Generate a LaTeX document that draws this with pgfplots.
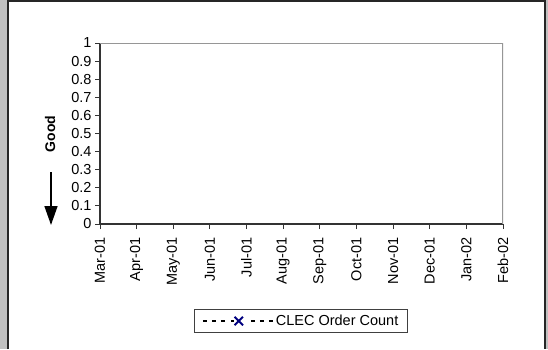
\documentclass[border=0pt]{standalone}
\usepackage{pgfplots}
\pgfplotsset{compat=1.18}
\usepackage{fontspec}
\setmainfont{Liberation Sans}
\usetikzlibrary{arrows.meta}
\definecolor{panelgray}{HTML}{C0C0C0}
\definecolor{framegray}{HTML}{969696}
\definecolor{markblue}{HTML}{000080}

\begin{document}
\begin{tikzpicture}[x=1pt,y=1pt]
  % page: grey edge, white panel with dark frame
  \useasboundingbox (0,0) rectangle (548,349);
  \fill[panelgray] (0,0) rectangle (548,349);
  \fill[white] (8,0) rectangle (545,347.5);
  \draw[black!85, line width=2pt] (8,0) -- (8,347.5) -- (545,347.5) -- (545,0);

  % "Good" with downward arrow
  \node[rotate=90, font=\bfseries\fontsize{14}{16}\selectfont] at (50,215) {Good};
  \draw[line width=1.5pt, -{Triangle[width=13pt,length=19pt]}] (51,177) -- (51,124);

  \begin{axis}[
    at={(100pt,125pt)}, anchor=south west,
    scale only axis, width=403pt, height=181pt,
    xmin=0, xmax=11, ymin=0, ymax=1,
    xtick={0,...,11},
    xticklabels={Mar-01,Apr-01,May-01,Jun-01,Jul-01,Aug-01,Sep-01,Oct-01,Nov-01,Dec-01,Jan-02,Feb-02},
    ytick={0,0.1,0.2,0.3,0.4,0.5,0.6,0.7,0.8,0.9,1},
    /pgf/number format/assume math mode=true,
    tick label style={font=\fontsize{14.5}{16}\selectfont},
    xticklabel style={rotate=90, anchor=east},
    xticklabel shift=5pt,
    axis x line*=bottom, axis y line*=left,
    axis line style={line width=1.6pt, black!80},
    tick align=outside, major tick length=5pt,
    tick style={line width=1pt, black!80},
    legend style={at={(0.4988,-0.536)}, anchor=center,
      draw=black!75, line width=0.8pt,
      font=\fontsize{14.5}{16}\selectfont,
      inner xsep=7pt, inner ysep=3.5pt},
    legend image code/.code={
      \draw[black, line width=2.2pt, dash pattern=on 4pt off 5pt] (0pt,0pt) -- (22pt,0pt);
      \draw[black, line width=2.2pt, dash pattern=on 4pt off 5pt] (48pt,0pt) -- (70pt,0pt);
      \draw[black, line width=2.2pt] (28pt,0pt) -- (32pt,0pt);
      \path plot[mark=x, mark size=6pt, mark options={markblue, line width=2pt, solid}] coordinates {(36pt,0pt)};
    },
  ]
    \draw[framegray, line width=2pt] (rel axis cs:0,1) -- (rel axis cs:1,1) -- (rel axis cs:1,0);
    % the series holds no values in this period
    \addlegendimage{black, dashed, mark=x}
    \addlegendentry{CLEC Order Count}
  \end{axis}
\end{tikzpicture}
\end{document}
